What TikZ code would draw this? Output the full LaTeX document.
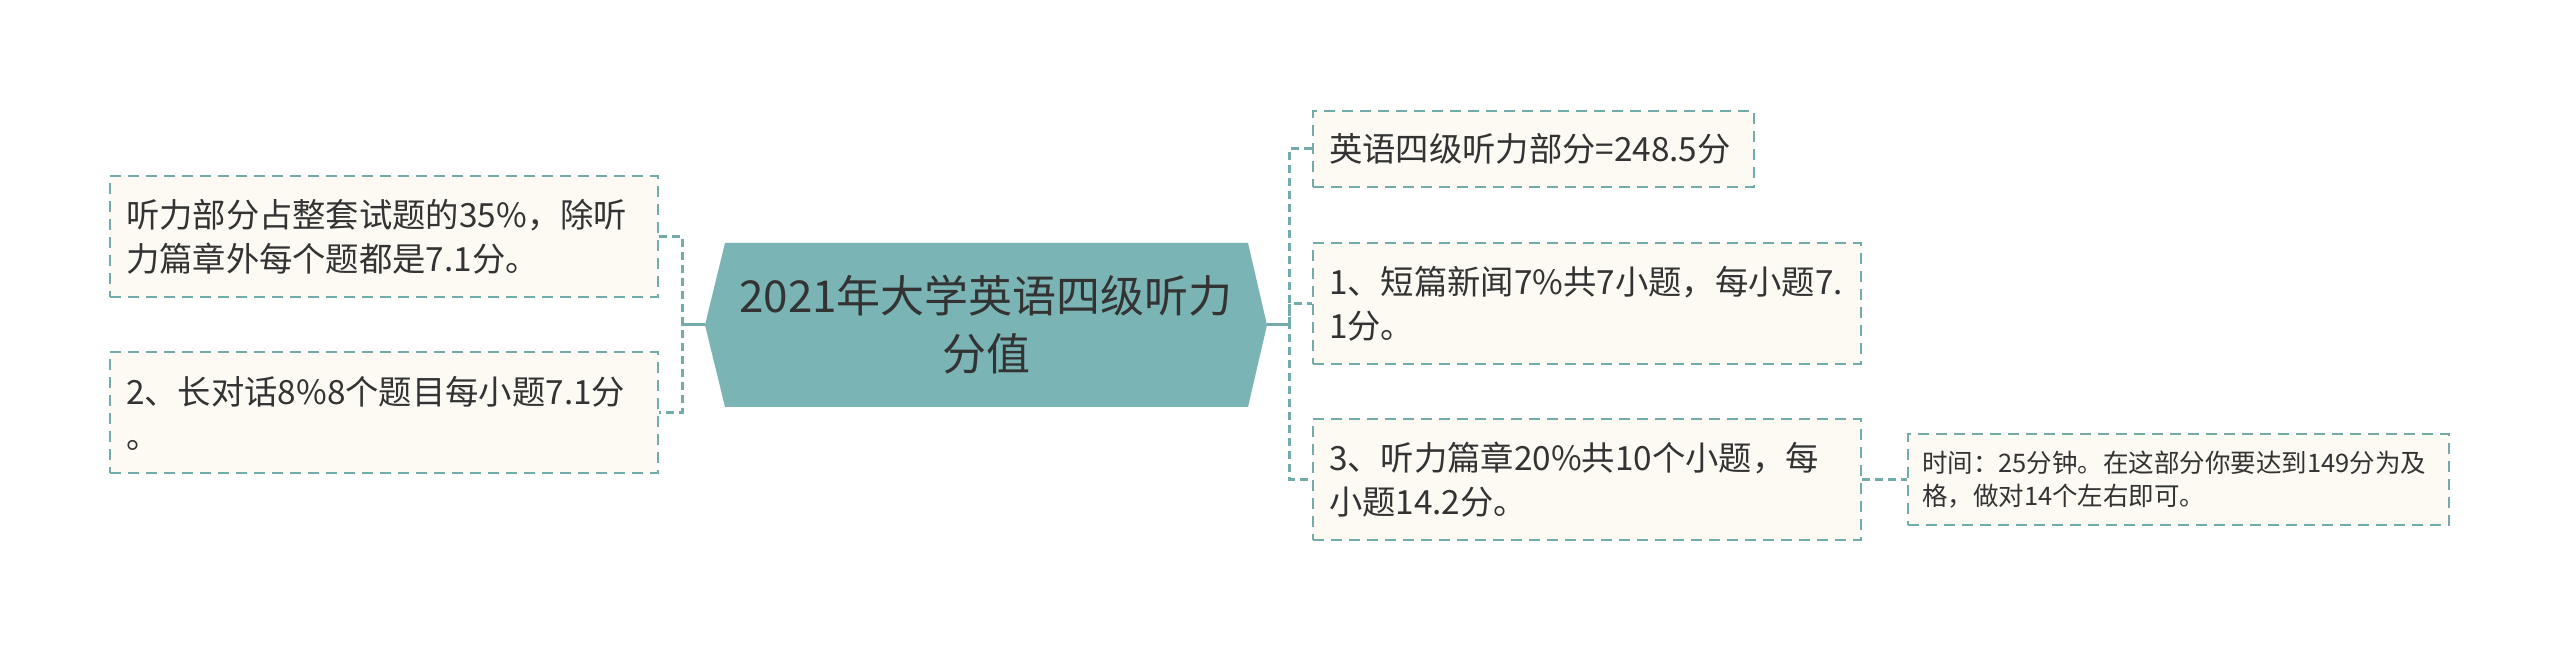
\documentclass[tikz,border=0pt]{standalone}
\usepackage{fontspec}
\setmainfont{Noto Sans CJK SC}
\definecolor{lineC}{HTML}{74AAAA}
\definecolor{boxC}{HTML}{FCFAF2}
\definecolor{hexC}{HTML}{7BB4B5}
\definecolor{txt}{HTML}{333333}
\begin{document}
\begin{tikzpicture}[x=0.3pt,y=-0.3pt,
  every node/.style={text=txt},
  leaf/.style={draw=lineC, fill=boxC, line width=0.6pt, dash pattern=on 3.3pt off 2.1pt,
    inner xsep=4.8pt, inner ysep=0pt, align=left, font=\fontsize{10}{13.2}\selectfont},
  wide/.style={text width=154.8pt, minimum height=36.3pt},
  conn/.style={draw=lineC, line width=0.9pt, dash pattern=on 2.4pt off 1.5pt},
  trunk/.style={draw=lineC, line width=0.9pt},
  rootlabel/.style={font=\fontsize{13.2}{17.4}\selectfont, align=center, inner sep=0pt}]
\useasboundingbox (0,0) rectangle (2560,651);
\fill[white] (0,0) rectangle (2560,651);

% central topic
\fill[hexC] (705,325) -- (725,243) -- (1248,243) -- (1267,325) -- (1248,407) -- (725,407) -- cycle;
\node[rootlabel] (root) at (986,325) {2021年大学英语四级听力\\分值};
\coordinate (rootW) at (705,325);
\coordinate (rootE) at (1267,325);
\coordinate (lj) at (682,325);
\coordinate (rj) at (1289,325);

% left branches
\node[leaf, wide] (L1) at (384,236.5) {听力部分占整套试题的35\%，除听\\力篇章外每个题都是7.1分。};
\node[leaf, wide] (L2) at (384,413) {2、长对话8\%8个题目每小题7.1分\\。};

% right branches
\node[leaf, text width=122.7pt, minimum height=22.8pt] (R1) at (1533.5,149) {英语四级听力部分=248.5分};
\node[leaf, wide] (R2) at (1587,303.5) {1、短篇新闻7\%共7小题，每小题7.\\1分。};
\node[leaf, wide] (R3) at (1587,479.5) {3、听力篇章20\%共10个小题，每\\小题14.2分。};
\node[leaf, font=\fontsize{7.65}{9.9}\selectfont, inner xsep=4.2pt, text width=153.9pt, minimum height=27.3pt] (S) at (2178.5,479.5) {时间：25分钟。在这部分你要达到149分为及\\格，做对14个左右即可。};

% connectors
\draw[trunk] (rootW) -- (lj);
\draw[conn] (L1.east) -| (lj) |- (L2.east);
\draw[trunk] (rootE) -- (rj);
\draw[conn] (R1.west) -| (rj) |- (R3.west);
\draw[conn] (rj) |- (R2.west);
\draw[conn] (R3.east) -- (S.west);
\end{tikzpicture}
\end{document}
